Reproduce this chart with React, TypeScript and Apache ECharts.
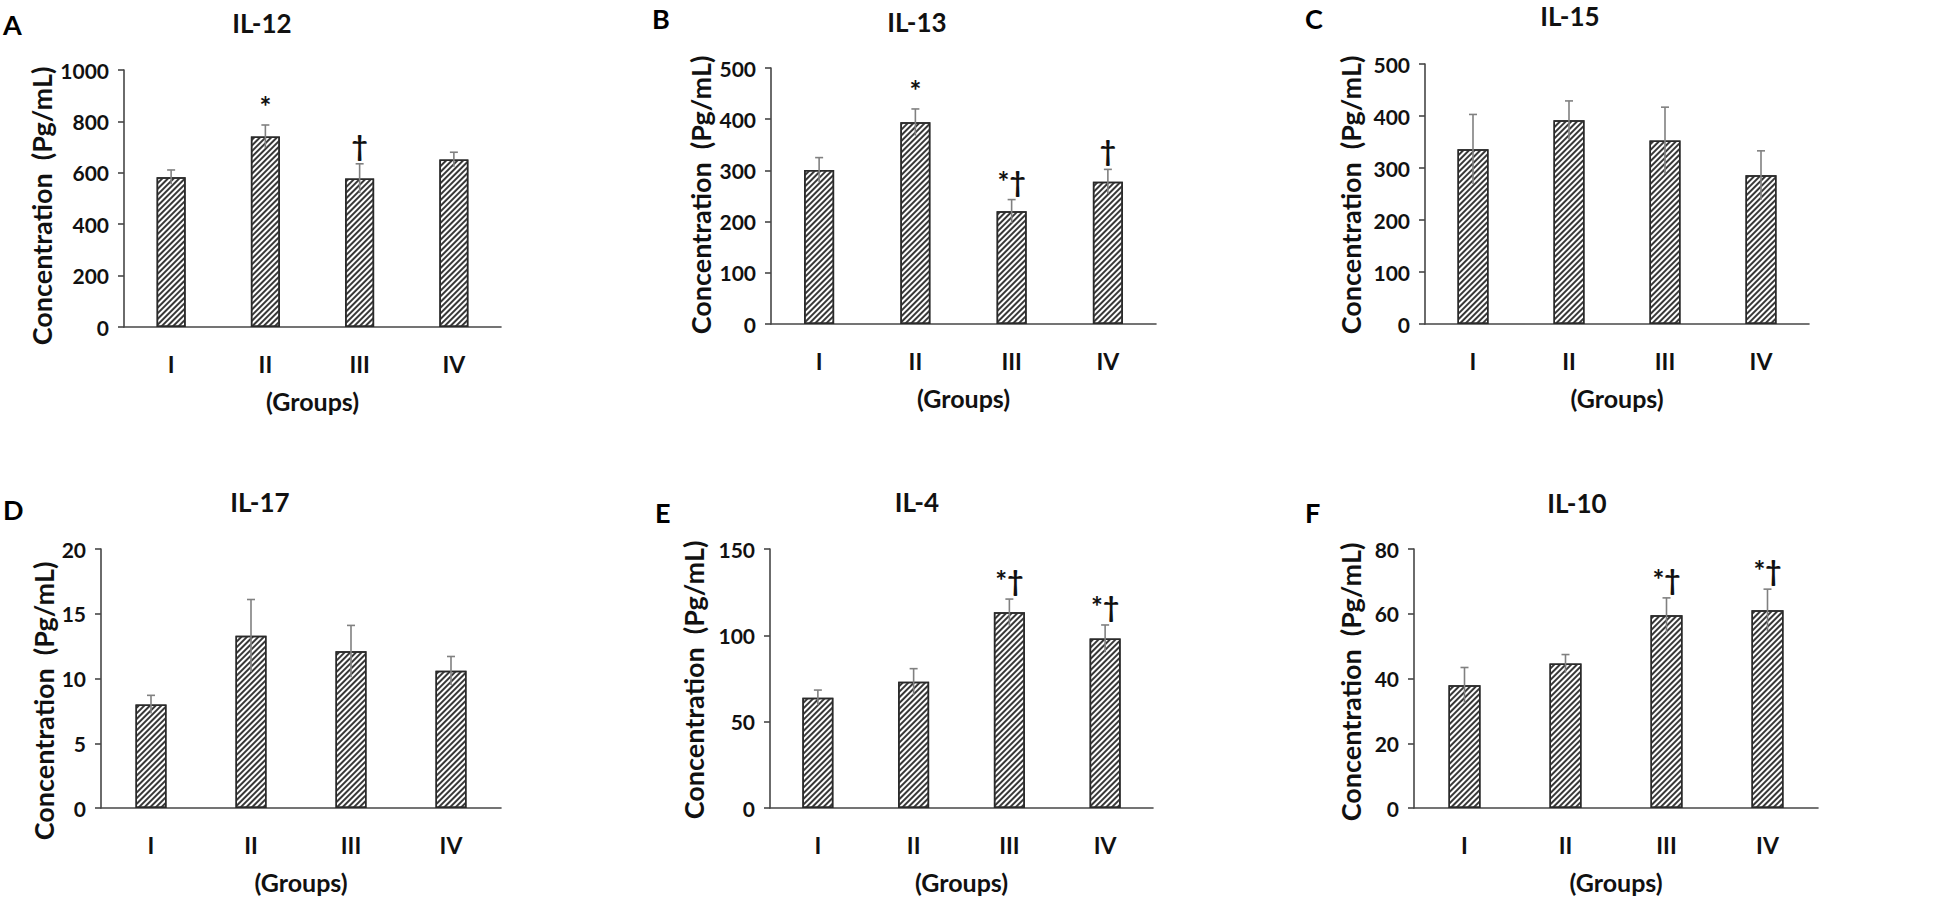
import React, { useEffect, useRef } from "react";
import * as echarts from "echarts";

// ---------- data ----------
const categories = ["I", "II", "III", "IV"];

const il12Mean = [583, 741, 578, 652];
const il12Err = [28, 45, 57, 28];
const il12Marks = ["", "*", "†", ""];

const il13Mean = [301, 394, 220, 278];
const il13Err = [24, 26, 23, 24];
const il13Marks = ["", "*", "*†", "†"];

const il15Mean = [336, 392, 353, 286];
const il15Err = [67, 37, 64, 47];
const il15Marks = ["", "", "", ""];

const il17Mean = [8.0, 13.3, 12.1, 10.6];
const il17Err = [0.7, 2.8, 2.0, 1.1];
const il17Marks = ["", "", "", ""];

const il4Mean = [63.9, 73.1, 113.3, 98.1];
const il4Err = [4.4, 7.6, 7.7, 7.9];
const il4Marks = ["", "", "*†", "*†"];

const il10Mean = [37.9, 44.6, 59.5, 61.1];
const il10Err = [5.5, 2.8, 5.4, 6.5];
const il10Marks = ["", "", "*†", "*†"];

const panelTitles = ["IL-12", "IL-13", "IL-15", "IL-17", "IL-4", "IL-10"];
const panelLetters = ["A", "B", "C", "D", "E", "F"];
const yMaxes = [1000, 500, 500, 20, 150, 80];
const yIntervals = [200, 100, 100, 5, 50, 20];
const yAxisTitle = "Concentration  (Pg/mL)";
const xAxisTitle = "(Groups)";

const means = [il12Mean, il13Mean, il15Mean, il17Mean, il4Mean, il10Mean];
const errs = [il12Err, il13Err, il15Err, il17Err, il4Err, il10Err];
const marks = [il12Marks, il13Marks, il15Marks, il17Marks, il4Marks, il10Marks];

// ---------- layout (pixels) ----------
const layout = [
  { left: 124, top: 70, width: 377, height: 257, barW: 29, title: [262, 23], letter: [3, 24], yName: [41, 206] },
  { left: 771, top: 68, width: 385, height: 256, barW: 30, title: [917, 22], letter: [652, 18], yName: [700, 195] },
  { left: 1425, top: 64, width: 384, height: 260, barW: 31, title: [1570, 16], letter: [1305, 18], yName: [1350, 195] },
  { left: 101, top: 549, width: 400, height: 259, barW: 31, title: [260, 502], letter: [3, 509], yName: [43, 701] },
  { left: 770, top: 549, width: 383, height: 259, barW: 31, title: [917, 502], letter: [655, 512], yName: [693, 680] },
  { left: 1414, top: 549, width: 404, height: 259, barW: 32, title: [1577, 503], letter: [1305, 512], yName: [1350, 682] },
];

const FONT = "Lato";
const TEXT = "#111";
const AXIS = "#474747";

export default function App() {
  const ref = useRef<HTMLDivElement>(null);

  useEffect(() => {
    document.body.style.margin = "0";
    if (!ref.current) return;
    const chart = echarts.init(ref.current, undefined, { renderer: "svg" });

    const grids: any[] = [];
    const xAxes: any[] = [];
    const yAxes: any[] = [];
    const series: any[] = [];
    const graphics: any[] = [];

    layout.forEach((L, p) => {
      grids.push({ left: L.left, top: L.top, width: L.width, height: L.height, containLabel: false });
      xAxes.push({
        type: "category",
        gridIndex: p,
        data: categories,
        axisLine: { lineStyle: { color: AXIS, width: 1.6 } },
        axisTick: { show: false },
        axisLabel: { margin: 25, color: TEXT, fontFamily: FONT, fontWeight: "bold", fontSize: 23 },
        name: xAxisTitle,
        nameLocation: "middle",
        nameGap: 61,
        nameTextStyle: { color: TEXT, fontFamily: FONT, fontWeight: "bold", fontSize: 25 },
      });
      yAxes.push({
        type: "value",
        gridIndex: p,
        min: 0,
        max: yMaxes[p],
        interval: yIntervals[p],
        axisLine: { show: true, lineStyle: { color: AXIS, width: 1.6 } },
        axisTick: { show: true, length: 6, lineStyle: { color: AXIS, width: 1.6 } },
        splitLine: { show: false },
        axisLabel: {
          margin: 15,
          color: TEXT,
          fontFamily: FONT,
          fontWeight: "bold",
          fontSize: 21,
          formatter: (v: number) => String(v),
        },
      });
      series.push({
        type: "bar",
        xAxisIndex: p,
        yAxisIndex: p,
        data: means[p],
        barWidth: L.barW,
        itemStyle: {
          color: "#ffffff",
          borderColor: "#2a2a2a",
          borderWidth: 1.5,
          decal: {
            symbol: "rect",
            symbolSize: 1,
            dashArrayX: [1, 0],
            dashArrayY: [1.4, 1.4],
            rotation: -Math.PI / 4,
            color: "#383838",
          },
        },
        silent: true,
      });
      const pm = marks[p];
      series.push({
        type: "custom",
        xAxisIndex: p,
        yAxisIndex: p,
        data: means[p].map((m, i) => [i, m, errs[p][i]]),
        z: 5,
        silent: true,
        renderItem: (params: any, api: any) => {
          const i = api.value(0);
          const v = api.value(1);
          const e = api.value(2);
          const top = api.coord([i, v + e]);
          const bot = api.coord([i, v - e]);
          const lineStyle = { stroke: "#808080", lineWidth: 1.6 };
          const children: any[] = [
            { type: "line", shape: { x1: top[0], y1: top[1], x2: bot[0], y2: bot[1] }, style: lineStyle },
            { type: "line", shape: { x1: top[0] - 4, y1: top[1], x2: top[0] + 4, y2: top[1] }, style: lineStyle },
          ];
          const t = pm[params.dataIndex];
          if (t) {
            children.push({
              type: "text",
              style: {
                text: t,
                x: top[0],
                y: top[1] - 19,
                align: "center",
                verticalAlign: "middle",
                fontFamily: FONT,
                fontWeight: "bold",
                fontSize: 28,
                fill: TEXT,
              },
            });
          }
          return { type: "group", children };
        },
      });

      graphics.push({
        type: "text",
        x: L.title[0],
        y: L.title[1],
        style: {
          text: panelTitles[p],
          align: "center",
          verticalAlign: "middle",
          fontFamily: FONT,
          fontWeight: "bold",
          fontSize: 26,
          fill: TEXT,
        },
      });
      graphics.push({
        type: "text",
        x: L.letter[0],
        y: L.letter[1],
        style: {
          text: panelLetters[p],
          align: "left",
          verticalAlign: "middle",
          fontFamily: FONT,
          fontWeight: "bold",
          fontSize: 27,
          fill: "#000",
        },
      });
      graphics.push({
        type: "text",
        x: L.yName[0],
        y: L.yName[1],
        rotation: Math.PI / 2,
        style: {
          text: yAxisTitle,
          align: "center",
          verticalAlign: "middle",
          fontFamily: FONT,
          fontWeight: "bold",
          fontSize: 27,
          fill: TEXT,
        },
      });
    });

    chart.setOption({
      animation: false,
      backgroundColor: "#ffffff",
      grid: grids,
      xAxis: xAxes,
      yAxis: yAxes,
      series,
      graphic: graphics,
    });

    return () => chart.dispose();
  }, []);

  return <div ref={ref} style={{ width: 1950, height: 903 }} />;
}
